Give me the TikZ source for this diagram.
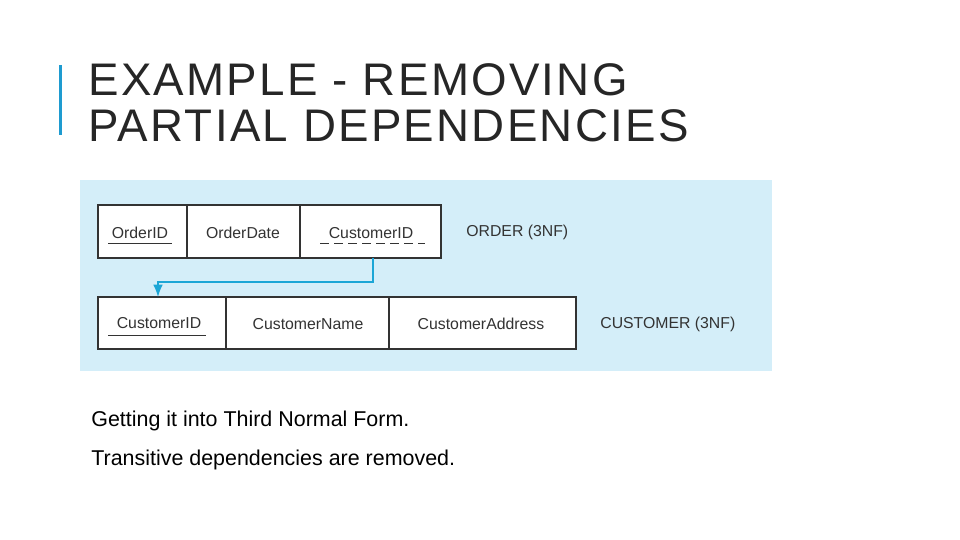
\documentclass[tikz,border=0pt]{standalone}
\usepackage{fontspec}
\setmainfont{Liberation Sans}
\usetikzlibrary{arrows.meta}
\definecolor{panelblue}{HTML}{D4EEF9}
\definecolor{accent}{HTML}{1E9BD0}
\definecolor{link}{HTML}{1BA6D6}
\definecolor{ink}{HTML}{333333}
\tikzset{
  attr/.style={font=\fontsize{9}{10}\selectfont, text=ink, inner sep=1pt},
  relname/.style={font=\fontsize{9}{10}\selectfont, text=ink, anchor=west, inner sep=0pt},
  body/.style={font=\fontsize{12.2}{14}\selectfont, anchor=west, inner sep=0pt}
}
\begin{document}
\begin{tikzpicture}[x=0.02cm, y=-0.02cm]
            \useasboundingbox (0,0) rectangle (960,540);
            \fill[white] (0,0) rectangle (960,540);

            \fill[accent] (59,65) rectangle (62,135);
            \node[anchor=west, inner sep=0pt, align=left, text=black!85,
                  font=\fontsize{26}{26}\selectfont\addfontfeature{LetterSpace=5}] (title) at (88,103)
                  {EXAMPLE - REMOVING\\PARTIAL DEPENDENCIES};

            \fill[panelblue] (80,180) rectangle (772,371);

            % ORDER table
            \fill[white] (98,205) rectangle (441,258);
            \draw[ink, line width=0.6pt] (98,205) rectangle (441,258);
            \draw[ink, line width=0.6pt] (187,205) -- (187,258);
            \draw[ink, line width=0.6pt] (300,205) -- (300,258);
            \node[attr] (oid) at (140,233) {OrderID};
            \node[attr] (odate) at (243,233) {OrderDate};
            \node[attr] (ocid) at (371,233) {CustomerID};
            \draw[ink, line width=0.5pt] (108,243) -- (172,243);
            \draw[ink, line width=0.5pt, dash pattern=on 5pt off 3pt] (320,243) -- (425,243);
            \node[relname] (order) at (466,232) {ORDER (3NF)};

            % CUSTOMER table
            \fill[white] (98,297) rectangle (576,349);
            \draw[ink, line width=0.6pt] (98,297) rectangle (576,349);
            \draw[ink, line width=0.6pt] (226,297) -- (226,349);
            \draw[ink, line width=0.6pt] (389,297) -- (389,349);
            \node[attr] (ccid) at (159,323) {CustomerID};
            \node[attr] (cname) at (308,324) {CustomerName};
            \node[attr] (caddr) at (481,324) {CustomerAddress};
            \draw[ink, line width=0.5pt] (108,335) -- (206,335);
            \node[relname] (customer) at (600,324) {CUSTOMER (3NF)};

            % foreign key link
            \coordinate (fkfrom) at (373,258);
            \coordinate (fkto) at (158,297);
            \draw[link, line width=0.8pt, -{Latex[length=7pt,width=5.5pt]}]
                  (fkfrom) -- (373,282) -- (158,282) -- (fkto);

            \node[body] (note1) at (91,421) {Getting it into Third Normal Form.};
            \node[body] (note2) at (91,460) {Transitive dependencies are removed.};
        \end{tikzpicture}
\end{document}
